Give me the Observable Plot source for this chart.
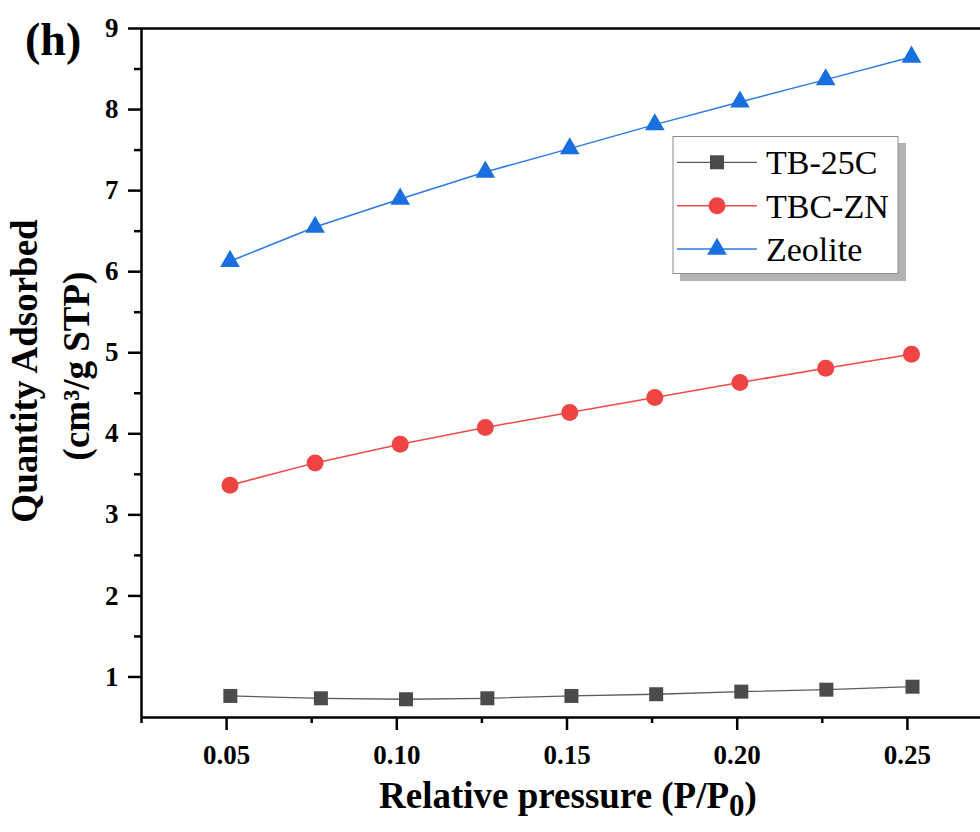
<!DOCTYPE html>
<html>
<head>
<meta charset="utf-8">
<script src="https://cdn.jsdelivr.net/npm/d3@7"></script>
<script src="https://cdn.jsdelivr.net/npm/@observablehq/plot@0.6"></script>
<style>
html, body { margin: 0; padding: 0; background: #fff; overflow: hidden; }
#wrap { width: 980px; height: 832px; overflow: hidden; position: relative; background: #fff; }
#wrap svg { max-width: none !important; width: 992px; height: 832px; }
</style>
</head>
<body>
<div id="wrap"></div>
<script>
// ---- data ----
const seriesNames = ["TB-25C", "TBC-ZN", "Zeolite"];
const seriesColors = ["#4b4b4b", "#f04343", "#1a6fdf"];
const lineColors = ["#5c5c5c", "#f04a4a", "#2a7be6"];
const seriesSymbols = ["square", "circle", "triangle"];

const xTB  = [0.0511, 0.0777, 0.1027, 0.1266, 0.1513, 0.1762, 0.2012, 0.2262, 0.2515];
const yTB  = [0.766, 0.737, 0.725, 0.737, 0.766, 0.787, 0.819, 0.843, 0.880];

const xZN  = [0.0510, 0.0760, 0.1010, 0.1260, 0.1508, 0.1758, 0.2008, 0.2260, 0.2512];
const yZN  = [3.366, 3.641, 3.872, 4.079, 4.262, 4.447, 4.632, 4.809, 4.982];

const xZeo = [0.0510, 0.0760, 0.1010, 0.1260, 0.1508, 0.1758, 0.2008, 0.2260, 0.2512];
const yZeo = [6.129, 6.551, 6.897, 7.230, 7.518, 7.814, 8.094, 8.369, 8.649];

const yTicks = [1, 2, 3, 4, 5, 6, 7, 8, 9];
const yMinor = [1.5, 2.5, 3.5, 4.5, 5.5, 6.5, 7.5, 8.5];
const xTicks = [0.05, 0.10, 0.15, 0.20, 0.25];
const xMinor = [0.025, 0.075, 0.125, 0.175, 0.225];

const xTitle = "Relative pressure (P/P";
const xTitleSub = "0";
const yTitle1 = "Quantity Adsorbed";
const yTitle2 = "(cm³/g STP)";
const panelLabel = "(h)";

// ---- build tables ----
const mk = (xs, ys) => xs.map((x, i) => ({x, y: ys[i]}));
const tb = mk(xTB, yTB), zn = mk(xZN, yZN), zeo = mk(xZeo, yZeo);

const FONT = "'Liberation Serif', 'Times New Roman', Times, serif";

const plot = Plot.plot({
  width: 992,
  height: 832,
  marginLeft: 141,
  marginRight: 0,
  marginTop: 28,
  marginBottom: 115,
  x: {domain: [0.025, 0.275]},
  y: {domain: [0.5, 9]},
  style: {fontFamily: FONT, background: "white", color: "black", overflow: "visible", maxWidth: "none"},
  marks: [
    Plot.axisY({ticks: yMinor, tickSize: 7, strokeWidth: 2.5, tickFormat: () => "", label: null}),
    Plot.axisY({ticks: yTicks, tickSize: 13, tickPadding: 10, strokeWidth: 2.5, fontSize: 27, fontWeight: "bold", tickFormat: d3.format("d"), label: null}),
    Plot.axisX({ticks: xMinor, tickSize: 6, strokeWidth: 2.5, tickFormat: () => "", label: null}),
    Plot.axisX({ticks: xTicks, tickSize: 13, tickPadding: 14, strokeWidth: 2.5, fontSize: 27, fontWeight: "bold", tickFormat: d3.format(".2f"), label: null}),
    Plot.ruleX([0.025], {stroke: "black", strokeWidth: 2.5}),
    Plot.ruleY([0.5], {stroke: "black", strokeWidth: 2.5}),
    Plot.ruleY([9], {stroke: "black", strokeWidth: 2.5}),
    Plot.line(tb, {x: "x", y: "y", stroke: lineColors[0], strokeWidth: 1.3}),
    Plot.line(zn, {x: "x", y: "y", stroke: lineColors[1], strokeWidth: 1.5}),
    Plot.line(zeo, {x: "x", y: "y", stroke: lineColors[2], strokeWidth: 1.5}),
    Plot.dot(tb, {x: "x", y: "y", symbol: seriesSymbols[0], r: 7.9, fill: seriesColors[0], stroke: "none"}),
    Plot.dot(zn, {x: "x", y: "y", symbol: seriesSymbols[1], r: 8.5, fill: seriesColors[1], stroke: "none"}),
    Plot.dot(zeo, {x: "x", y: "y", symbol: seriesSymbols[2], r: 7.3, fill: seriesColors[2], stroke: "none"})
  ]
});

document.getElementById("wrap").appendChild(plot);
const svg = d3.select(plot);

// panel label
svg.append("text")
  .attr("x", 25).attr("y", 55)
  .attr("text-anchor", "start")
  .style("font-family", FONT).style("font-weight", "bold").style("font-size", "46px")
  .attr("fill", "black")
  .text(panelLabel);

// x title
const xt = svg.append("text")
  .attr("x", 568).attr("y", 808)
  .attr("text-anchor", "middle")
  .style("font-family", FONT).style("font-weight", "bold").style("font-size", "37px")
  .attr("fill", "black");
xt.append("tspan").text(xTitle);
xt.append("tspan").style("font-size", "31px").attr("dy", 8).text(xTitleSub);
xt.append("tspan").attr("dy", -8).text(")");

// y title
svg.append("text")
  .attr("transform", "translate(37,371) rotate(-90)")
  .attr("text-anchor", "middle")
  .style("font-family", FONT).style("font-weight", "bold").style("font-size", "37px")
  .attr("fill", "black")
  .text(yTitle1);
svg.append("text")
  .attr("transform", "translate(88.5,366) rotate(-90)")
  .attr("text-anchor", "middle")
  .style("font-family", FONT).style("font-weight", "bold").style("font-size", "37px")
  .attr("fill", "black")
  .text(yTitle2);

// legend
const lg = svg.append("g");
lg.append("rect").attr("x", 680).attr("y", 143).attr("width", 226).attr("height", 138).attr("fill", "#b3b3b3");
lg.append("rect").attr("x", 673).attr("y", 136.5).attr("width", 225).attr("height", 137).attr("fill", "white").attr("stroke", "#8c8c8c").attr("stroke-width", 1);
const rowY = [162.3, 205.7, 249];
const symR = [7.9, 8.5, 7.3];
const symMap = {square: d3.symbolSquare, circle: d3.symbolCircle, triangle: d3.symbolTriangle};
seriesNames.forEach((name, i) => {
  const yy = rowY[i];
  lg.append("line").attr("x1", 677).attr("x2", 757).attr("y1", yy).attr("y2", yy)
    .attr("stroke", lineColors[i]).attr("stroke-width", i === 0 ? 1.3 : 1.5);
  lg.append("path")
    .attr("transform", `translate(717,${yy})`)
    .attr("d", d3.symbol(symMap[seriesSymbols[i]], Math.PI * symR[i] * symR[i])())
    .attr("fill", seriesColors[i]);
  lg.append("text")
    .attr("x", 766).attr("y", yy + 12)
    .attr("text-anchor", "start")
    .style("font-family", FONT).style("font-size", "34px").style("font-weight", "normal")
    .attr("fill", "black")
    .text(name);
});
</script>
</body>
</html>
